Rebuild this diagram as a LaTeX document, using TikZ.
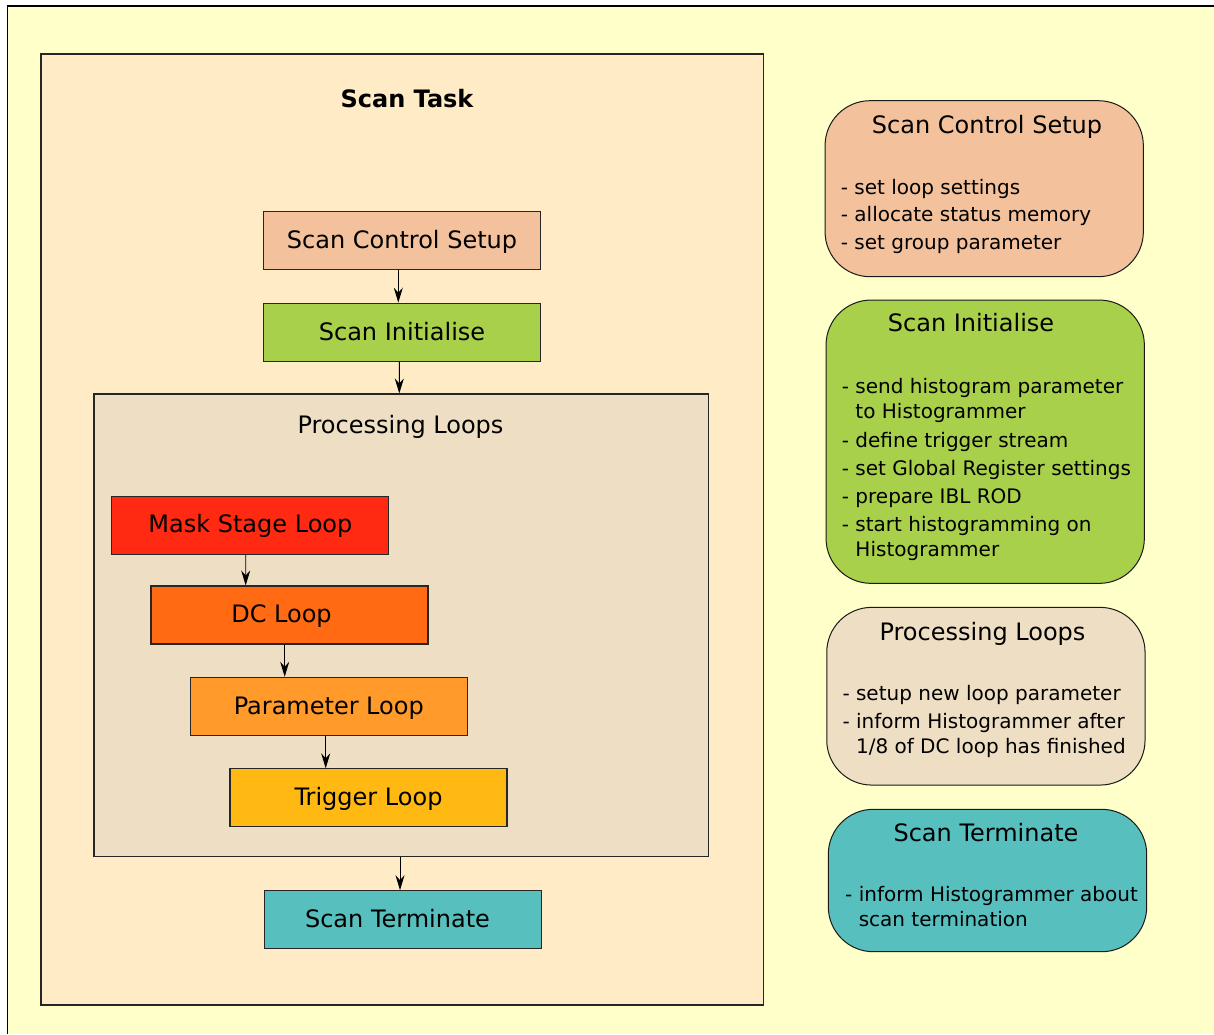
\documentclass[tikz,border=0pt]{standalone}
\usepackage{fontspec}
\setmainfont{DejaVu Sans}
\usetikzlibrary{arrows.meta}

\definecolor{pagebg}{HTML}{FFFFC9}
\definecolor{taskbg}{HTML}{FFEBC6}
\definecolor{procbg}{HTML}{EEDFC4}
\definecolor{setupc}{HTML}{F3C19C}
\definecolor{initc}{HTML}{A9D04B}
\definecolor{maskc}{HTML}{FF2A11}
\definecolor{dcc}{HTML}{FF6A12}
\definecolor{paramc}{HTML}{FF9A2B}
\definecolor{trigc}{HTML}{FFB912}
\definecolor{termc}{HTML}{58BFBF}

\begin{document}
\begin{tikzpicture}[x=1pt,y=-1pt,
  frame/.style={draw=black!85, line width=1.1pt},
  container/.style={frame, rectangle, inner sep=0pt},
  stepbox/.style={frame, rectangle, inner sep=0pt, minimum width=277pt,
    minimum height=58pt, font=\fontsize{24}{29}\selectfont,
    text height=19.2pt, text depth=3.6pt},
  infobox/.style={draw=black!90, line width=1pt, rectangle,
    rounded corners=45pt, inner sep=0pt},
  infotitle/.style={anchor=base, inner sep=0pt, font=\fontsize{24}{29}\selectfont},
  infolist/.style={anchor=north west, inner sep=0pt, align=left,
    font=\fontsize{20}{25}\selectfont},
  flow/.style={draw=black, line width=0.9pt,
    -{Stealth[length=15pt,width=9pt,inset=5pt]}}
]
\useasboundingbox (0,0) rectangle (1214,1034);

% page background
\fill[white] (0,0) rectangle (1214,1034);
\fill[pagebg] (7.3,6) rectangle (1214,1034);
\draw[black, line width=1.5pt] (7.3,1034) -- (7.3,6) -- (1214,6);

% scan task container
\node[container, fill=taskbg, minimum width=722.7pt, minimum height=951pt]
  (task) at (402.35,529.5) {};
\node[anchor=base, inner sep=0pt, font=\fontsize{24}{29}\selectfont\bfseries]
  (tasktitle) at (407,107.7) {Scan Task};

% flow steps
\node[stepbox, fill=setupc] (cs)  at (402,240.85) {Scan Control Setup};
\node[stepbox, fill=initc]  (ini) at (402,332.2)  {Scan Initialise};

\node[container, fill=procbg, minimum width=614.3pt, minimum height=462.5pt]
  (proc) at (401.15,625.25) {};
\node[infotitle] (proctitle) at (400.5,433.3) {Processing Loops};

\node[stepbox, fill=maskc]  (mask)  at (250.35,525.15) {Mask Stage Loop};
\node[stepbox, fill=dcc]    (dc)    at (289.5,615)     {DC Loop\hspace*{16pt}};
\node[stepbox, fill=paramc] (param) at (328.8,706.3)   {Parameter Loop};
\node[stepbox, fill=trigc]  (trig)  at (368.5,797.85)  {Trigger Loop};
\node[stepbox, fill=termc]  (term)  at (403,919.7)     {Scan Terminate\hspace*{11pt}};

% connectors
\draw[flow] ([xshift=-3.7pt]cs.south)    -- ([xshift=-3.7pt]ini.north);
\draw[flow] ([xshift=-2.7pt]ini.south)   -- ([xshift=-1.85pt]proc.north);
\draw[flow] ([xshift=-4.65pt]mask.south) -- ([xshift=-43.8pt]dc.north);
\draw[flow] ([xshift=-4.8pt]dc.south)    -- ([xshift=-44.1pt]param.north);
\draw[flow] ([xshift=-3.1pt]param.south) -- ([xshift=-42.8pt]trig.north);
\draw[flow] ([xshift=-1.15pt]proc.south) -- ([xshift=-3pt]term.north);

% description panels
\node[infobox, fill=setupc, minimum width=318.3pt, minimum height=176pt]
  (dsetup) at (984.2,188.7) {};
\node[infotitle] (dsetupt) at (987,133.3) {Scan Control Setup};
\node[infolist] (dsetupl) at (840.7,178.3)
  {\rule{0pt}{16pt}- set loop settings\\[2.4pt]
   - allocate status memory\\[2.4pt]
   - set group parameter};

\node[infobox, fill=initc, minimum width=318.3pt, minimum height=283.3pt]
  (dinit) at (985.2,441.7) {};
\node[infotitle] (dinitt) at (971,331.7) {Scan Initialise};
\node[infolist] (dinitl) at (841.7,377.3)
  {\rule{0pt}{16pt}- send histogram parameter\\
   \phantom{- }to Histogrammer\\[3.5pt]
   - define trigger stream\\[3pt]
   - set Global Register settings\\[3pt]
   - prepare IBL ROD\\[3pt]
   - start histogramming on\\
   \phantom{- }Histogrammer};

\node[infobox, fill=procbg, minimum width=318.3pt, minimum height=177.7pt]
  (dproc) at (985.9,696.2) {};
\node[infotitle] (dproct) at (982.5,640) {Processing Loops};
\node[infolist] (dprocl) at (842.3,684)
  {\rule{0pt}{16pt}- setup new loop parameter\\[3.5pt]
   - inform Histogrammer after\\
   \phantom{- }1/8 of DC loop has finished};

\node[infobox, fill=termc, minimum width=318.4pt, minimum height=142.4pt]
  (dterm) at (987.5,880.5) {};
\node[infotitle] (dtermt) at (986,841.7) {Scan Terminate};
\node[infolist] (dterml) at (845,885.7)
  {\rule{0pt}{16pt}- inform Histogrammer about\\
   \phantom{- }scan termination};
\end{tikzpicture}
\end{document}
